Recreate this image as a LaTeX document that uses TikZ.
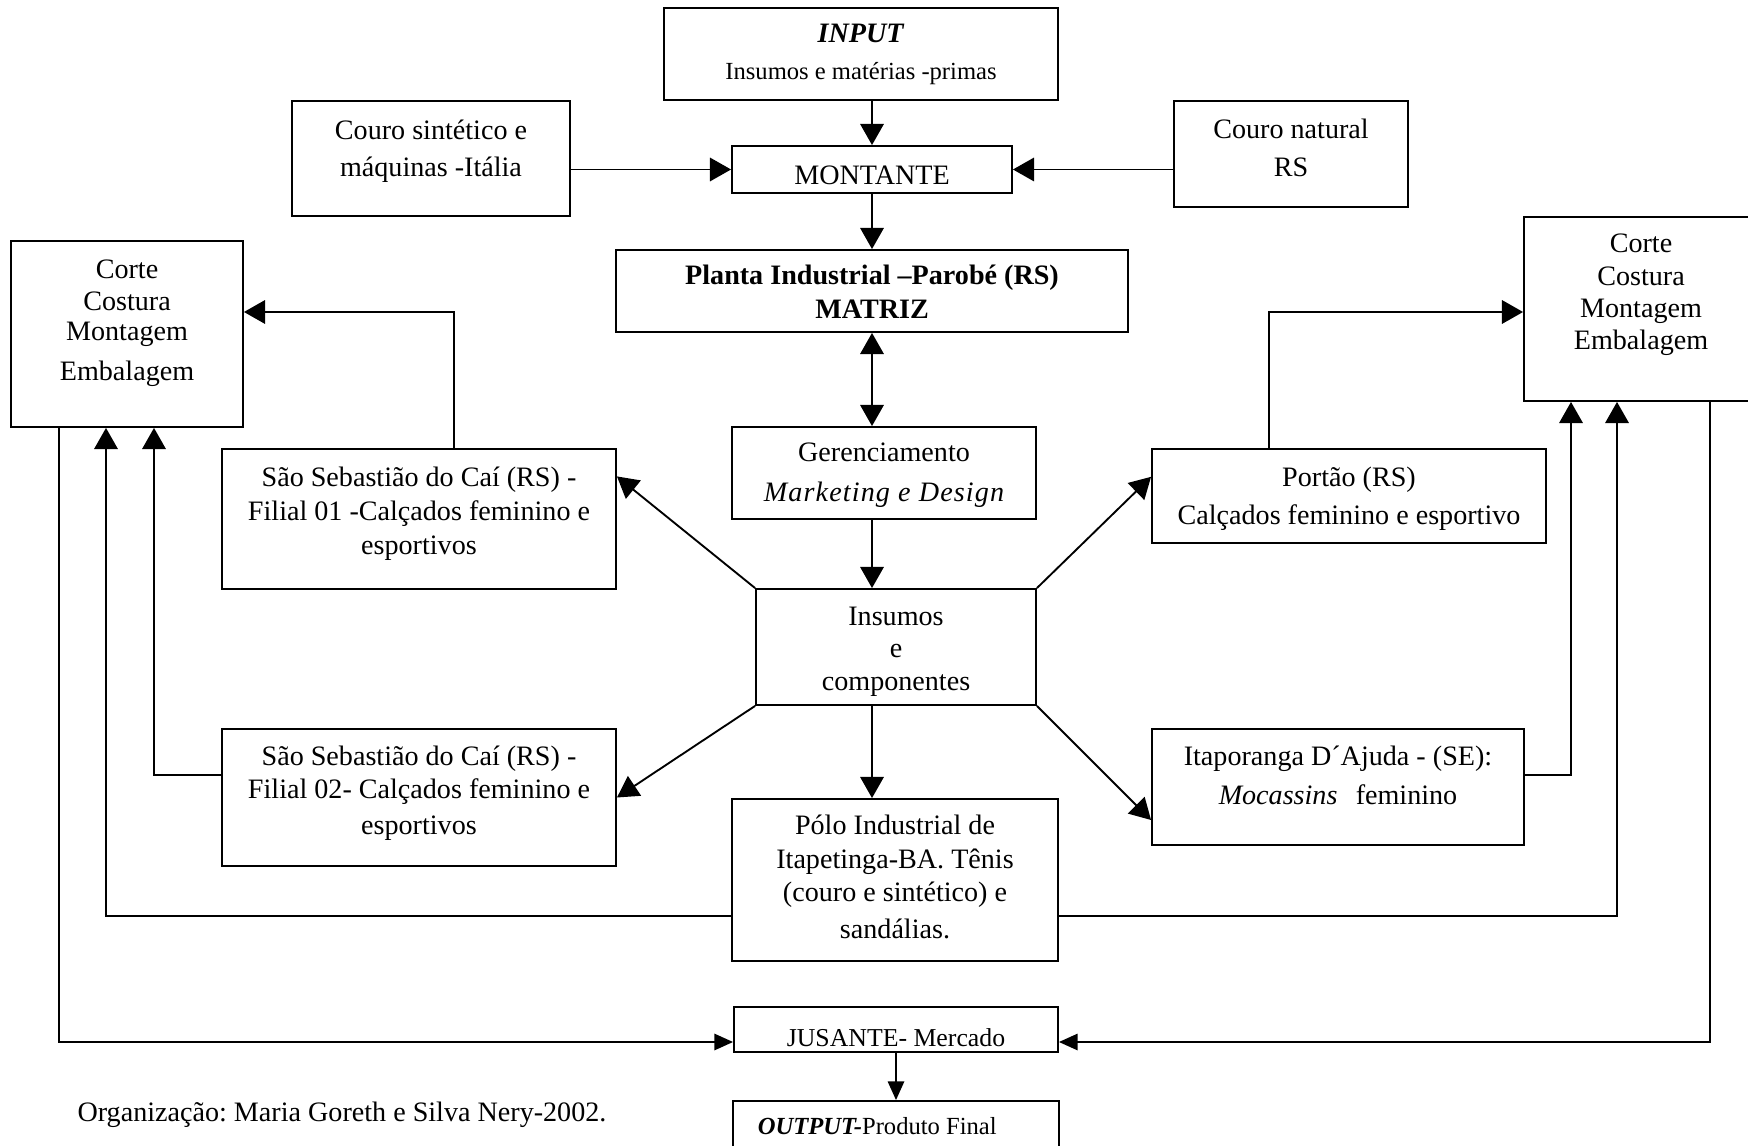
\documentclass[tikz,border=0pt]{standalone}
\usepackage{fontspec}
\setmainfont{Liberation Serif}
\usetikzlibrary{arrows.meta,calc}
\frenchspacing

\tikzset{
  box/.style={draw, line width=0.8pt, inner sep=0pt},
  txt/.style={align=center, font=\fontsize{12}{14.5}\selectfont},
  seta/.style={-{Triangle[width=7pt,length=8pt]}},
}

\begin{document}
\begin{tikzpicture}[x=0.015cm, y=-0.015cm, line width=0.8pt,
    >={Triangle[width=10pt,length=9pt]}]
\useasboundingbox (0,0) rectangle (1748,1146);

% caixas do centro
\node[box, minimum width=5.91cm, minimum height=1.38cm,
  label={[txt, yshift=-0.2pt]center:{\textbf{\textit{INPUT}}\\[1.3pt]{\fontsize{10.5}{12}\selectfont Insumos e matérias -primas}}}] (input) at (861,54) {};
\node[box, minimum width=4.17cm, minimum height=1.725cm,
  label={[txt, yshift=3.1pt]center:{Couro sintético e\\[1.7pt]máquinas -Itália}}] (couroS) at (431,158.5) {};
\node[box, minimum width=4.2cm, minimum height=0.705cm,
  label={[txt, yshift=-2.3pt]center:{MONTANTE}}] (montante) at (872,169.5) {};
\node[box, minimum width=3.51cm, minimum height=1.59cm,
  label={[txt, yshift=2.5pt]center:{Couro natural\\[1.7pt]RS}}] (couroN) at (1291,154) {};
\node[box, minimum width=7.68cm, minimum height=1.23cm,
  label={[txt, yshift=-0.4pt]center:{\textbf{Planta Industrial –Parobé (RS)}\\\textbf{MATRIZ}}}] (planta) at (872,291) {};
\node[box, minimum width=4.56cm, minimum height=1.38cm,
  label={[txt, yshift=-1pt]center:{Gerenciamento\\[2.5pt]{\itshape\addfontfeature{LetterSpace=4}Marketing e Design}}}] (gerenc) at (884,473) {};
\node[box, minimum width=4.2cm, minimum height=1.74cm,
  label={[txt, yshift=-2pt]center:{Insumos\\[-0.7pt]e\\[-0.7pt]componentes}}] (insumos) at (896,647) {};
\node[box, minimum width=4.89cm, minimum height=2.43cm,
  label={[txt, yshift=1.3pt]center:{Pólo Industrial de\\Itapetinga-BA. Tênis\\[-0.5pt](couro e sintético) e\\[1.3pt]sandálias.}}] (polo) at (895,880) {};

% filiais
\node[box, minimum width=5.91cm, minimum height=2.1cm,
  label={[txt, yshift=2.2pt]center:{São Sebastião do Caí (RS) -\\Filial 01 -Calçados feminino e\\esportivos}}] (fil1) at (419,519) {};
\node[box, minimum width=5.91cm, minimum height=2.055cm,
  label={[txt, yshift=1.9pt]center:{São Sebastião do Caí (RS) -\\[-0.5pt]Filial 02- Calçados feminino e\\[1pt]esportivos}}] (fil2) at (419,797.5) {};
\node[box, minimum width=5.91cm, minimum height=1.41cm,
  label={[txt, yshift=-1.2pt]center:{Portão (RS)\\[1.7pt]Calçados feminino e esportivo}}] (portao) at (1349,496) {};
\node[box, minimum width=5.58cm, minimum height=1.74cm,
  label={[txt, yshift=5pt]center:{Itaporanga D´Ajuda - (SE):\\[2pt]\textit{Mocassins}\hspace{4.8pt} feminino}}] (itap) at (1338,787) {};

% producao
\node[box, minimum width=3.48cm, minimum height=2.79cm,
  label={[txt, yshift=4.6pt]center:{Corte\\[-0.5pt]Costura\\[-1.7pt]Montagem\\[2.5pt]Embalagem}}] (cortL) at (127,334) {};
\node[box, minimum width=3.51cm, minimum height=2.76cm,
  label={[txt, yshift=6pt]center:{Corte\\[-0.7pt]Costura\\[-0.7pt]Montagem\\[-0.7pt]Embalagem}}] (cortR) at (1641,309) {};

% mercado
\node[box, minimum width=4.86cm, minimum height=0.675cm,
  label={[txt, yshift=-3.6pt, font=\fontsize{11}{13}\selectfont]center:{JUSANTE- Mercado}}] (jusante) at (896,1029.5) {};
\node[box, minimum width=4.89cm, minimum height=0.9cm,
  label={[txt, xshift=-8pt, yshift=2pt, font=\fontsize{10.5}{12}\selectfont]center:{\textbf{\textit{OUTPUT-}}Produto Final}}] (output) at (896,1131) {};

\node[txt] (fonte) at (342,1115) {Organização: Maria Goreth e Silva Nery-2002.};

% pontos de dobra
\coordinate (b1) at (454,312);
\coordinate (b2) at (1269,312);
\coordinate (b3) at (154,775);
\coordinate (b4) at (106,916);
\coordinate (b5) at (1571,775);
\coordinate (b6) at (1617,916);
\coordinate (b7) at (59,1042);
\coordinate (b8) at (1710,1042);

% eixo central
\draw[->] (input.south -| montante) -- (montante.north);
\draw[->] (couroS.east |- montante) -- (montante.west);
\draw[->] (couroN.west |- montante) -- (montante.east);
\draw[->] (montante.south) -- (planta.north);
\draw[<->] (planta.south) -- (planta.south |- gerenc.north);
\draw[->] (gerenc.south -| planta) -- (insumos.north -| planta);
\draw[->] (insumos.south -| planta) -- (polo.north -| planta);

% insumos para as filiais
\draw[->] (insumos.north west) -- ($(fil1.north east)!0.2!(fil1.south east)$);
\draw[->] (insumos.north east) -- ($(portao.north west)!0.3!(portao.south west)$);
\draw[->] (insumos.south west) -- (fil2.east);
\draw[->] (insumos.south east) -- ($(itap.north west)!0.78!(itap.south west)$);

% filiais para corte/costura
\draw[->] (fil1.north -| b1) -- (b1) -- (b1 -| cortL.east);
\draw[->] (portao.north -| b2) -- (b2) -- (b2 -| cortR.west);
\draw[->] (fil2.west |- b3) -- (b3) -- (b3 |- cortL.south);
\draw[->] (polo.west |- b4) -- (b4) -- (b4 |- cortL.south);
\draw[->] (itap.east |- b5) -- (b5) -- (b5 |- cortR.south);
\draw[->] (polo.east |- b6) -- (b6) -- (b6 |- cortR.south);

% jusante
\draw[seta] (cortL.south -| b7) -- (b7) -- (jusante.west |- b7);
\draw[seta] (cortR.south -| b8) -- (b8) -- (jusante.east |- b8);
\draw[seta] (jusante.south) -- (jusante.south |- output.north);
\end{tikzpicture}
\end{document}
